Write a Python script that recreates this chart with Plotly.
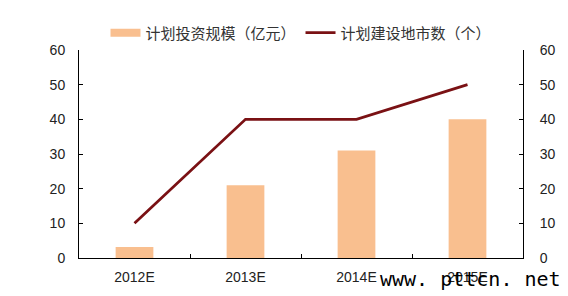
import plotly.graph_objects as go

categories = ["2012E", "2013E", "2014E", "2015E"]
investment = [3.2, 21, 31, 40]
cities = [10, 40, 40, 50]
y_ticks = [0, 10, 20, 30, 40, 50, 60]
bar_name = "计划投资规模（亿元）"
line_name = "计划建设地市数（个）"

BAR_COLOR = "#F9BF8F"
LINE_COLOR = "#7A1114"

fig = go.Figure()
fig.add_trace(go.Bar(
    x=categories, y=investment, name=bar_name, showlegend=False,
    marker=dict(color=BAR_COLOR, line=dict(width=0)), width=0.34, yaxis="y",
))
# legend proxy for the bars (wide rectangle swatch as in the reference)
fig.add_trace(go.Scatter(
    x=[None], y=[None], name=bar_name, mode="lines",
    line=dict(color=BAR_COLOR, width=8), yaxis="y",
))
fig.add_trace(go.Scatter(
    x=categories, y=cities, name=line_name, mode="lines",
    line=dict(color=LINE_COLOR, width=2.75), yaxis="y2",
))

axis_font = dict(family="Liberation Sans, Arial", size=14, color="#222")
fig.update_layout(
    width=568, height=296,
    margin=dict(l=79, r=45, t=50, b=38),
    paper_bgcolor="white", plot_bgcolor="white",
    showlegend=True,
    legend=dict(orientation="h", x=0.5, xanchor="center", y=1.082, yanchor="middle",
                font=dict(family="Noto Sans CJK SC", size=15, color="#333"),
                itemwidth=30, traceorder="normal"),
    xaxis=dict(showline=True, linecolor="black", linewidth=1, ticks="inside",
               tickson="boundaries", ticklen=4, tickcolor="black",
               tickfont=axis_font, showgrid=False, range=[-0.5, 3.5],
               automargin=False, ticklabelstandoff=6),
    yaxis=dict(range=[0, 60], tickvals=y_ticks, showline=True, linecolor="black",
               linewidth=1, ticks="inside", ticklen=4, tickcolor="black",
               tickfont=axis_font, showgrid=False, zeroline=False,
               automargin=False, ticklabelstandoff=10),
    yaxis2=dict(range=[0, 60], tickvals=y_ticks, overlaying="y", side="right",
                showline=True, linecolor="black", linewidth=1, ticks="inside",
                ticklen=4, tickcolor="black", tickfont=axis_font, showgrid=False,
                zeroline=False, automargin=False, ticklabelstandoff=13),
)
fig.add_annotation(
    text="www. pttcn. net", xref="paper", yref="paper",
    x=(563 - 79) / 444, y=(258 - 279) / 208,
    xanchor="right", yanchor="middle", showarrow=False,
    font=dict(family="DejaVu Sans Mono", size=20, color="black"),
)
fig.write_html("out.html")
